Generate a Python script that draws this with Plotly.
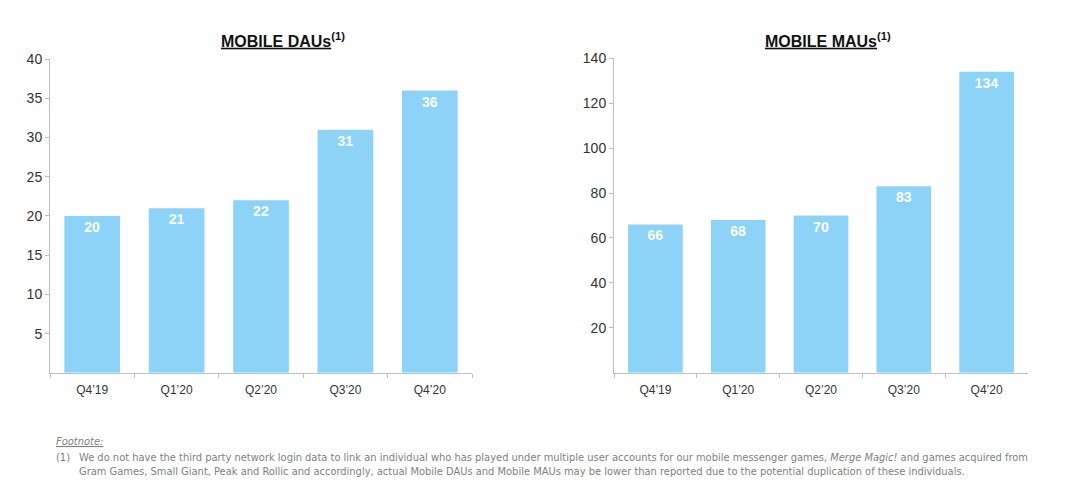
import plotly.graph_objects as go

quarters = ["Q4’19", "Q1’20", "Q2’20", "Q3’20", "Q4’20"]
daus = [20, 21, 22, 31, 36]
maus = [66, 68, 70, 83, 134]
dau_ticks = [5, 10, 15, 20, 25, 30, 35, 40]
mau_ticks = [20, 40, 60, 80, 100, 120, 140]

BAR = "#8DD3F7"
AX = "#BFBFBF"
TXT = "#333333"

fig = go.Figure()
for vals, xa, ya in [(daus, "x", "y"), (maus, "x2", "y2")]:
    fig.add_trace(go.Bar(
        x=quarters, y=vals, xaxis=xa, yaxis=ya,
        marker=dict(color=BAR, line=dict(width=0)),
        text=["<b>%d</b>" % v for v in vals], textposition="inside",
        insidetextanchor="end", textangle=0,
        textfont=dict(color="white", size=14, family="Arial, Liberation Sans"),
        showlegend=False, hoverinfo="skip",
    ))

H = 483
def py(px):
    return (H - px) / H

common_x = dict(showline=True, linecolor=AX, linewidth=1, ticks="outside",
                tickson="boundaries", ticklen=4, tickcolor=AX,
                ticklabelstandoff=6,
                tickfont=dict(size=12, color=TXT, family="Arial, Liberation Sans"),
                showgrid=False, fixedrange=True)
common_y = dict(showline=True, linecolor=AX, linewidth=1, ticks="outside",
                ticklen=4, tickcolor=AX, showgrid=False, zeroline=False,
                tickfont=dict(size=14, color=TXT, family="Arial, Liberation Sans"))

fig.update_layout(
    width=1080, height=483,
    margin=dict(l=0, r=0, t=0, b=0),
    paper_bgcolor="white", plot_bgcolor="white",
    bargap=0.34,
    xaxis=dict(domain=[50/1080, 472/1080], anchor="y", **common_x),
    yaxis=dict(domain=[py(371), py(52)], anchor="x", range=[0, 40],
               tickvals=dau_ticks, **common_y),
    xaxis2=dict(domain=[614/1080, 1028/1080], anchor="y2", **common_x),
    yaxis2=dict(domain=[py(371), py(51)], anchor="x2", range=[0, 140],
                tickvals=mau_ticks, **common_y),
    uniformtext=dict(minsize=14, mode="show"),
)

title_font = dict(size=16, color="#111111", family="Liberation Sans Narrow, Arial Narrow, Arial")
fig.add_annotation(x=283/1080, y=py(33), xref="paper", yref="paper",
                   text="<b><u>MOBILE DAUs</u><sup>(1)</sup></b>", showarrow=False,
                   font=title_font, xanchor="center", yanchor="middle")
fig.add_annotation(x=828/1080, y=py(33), xref="paper", yref="paper",
                   text="<b><u>MOBILE MAUs</u><sup>(1)</sup></b>", showarrow=False,
                   font=title_font, xanchor="center", yanchor="middle")

foot_font = dict(size=11, color="#7F7F7F", family="Liberation Sans Narrow, DejaVu Sans Condensed, Arial")
fig.add_annotation(x=54/1080, y=py(441), xref="paper", yref="paper",
                   text="<i><u>Footnote:</u></i>", showarrow=False, font=foot_font,
                   xanchor="left", yanchor="middle")
fig.add_annotation(x=54/1080, y=py(457), xref="paper", yref="paper",
                   text="(1)", showarrow=False, font=foot_font,
                   xanchor="left", yanchor="middle")
fig.add_annotation(x=77/1080, y=py(464.5), xref="paper", yref="paper",
                   text=("We do not have the third party network login data to link an individual who has played under multiple user accounts for our mobile messenger games, <i>Merge Magic!</i> and games acquired from<br>"
                         "Gram Games, Small Giant, Peak and Rollic and accordingly, actual Mobile DAUs and Mobile MAUs may be lower than reported due to the potential duplication of these individuals."),
                   showarrow=False, font=foot_font, align="left",
                   xanchor="left", yanchor="middle")

fig.write_html("out.html", post_script="document.body.style.margin='0';",
               config={"displayModeBar": False})
